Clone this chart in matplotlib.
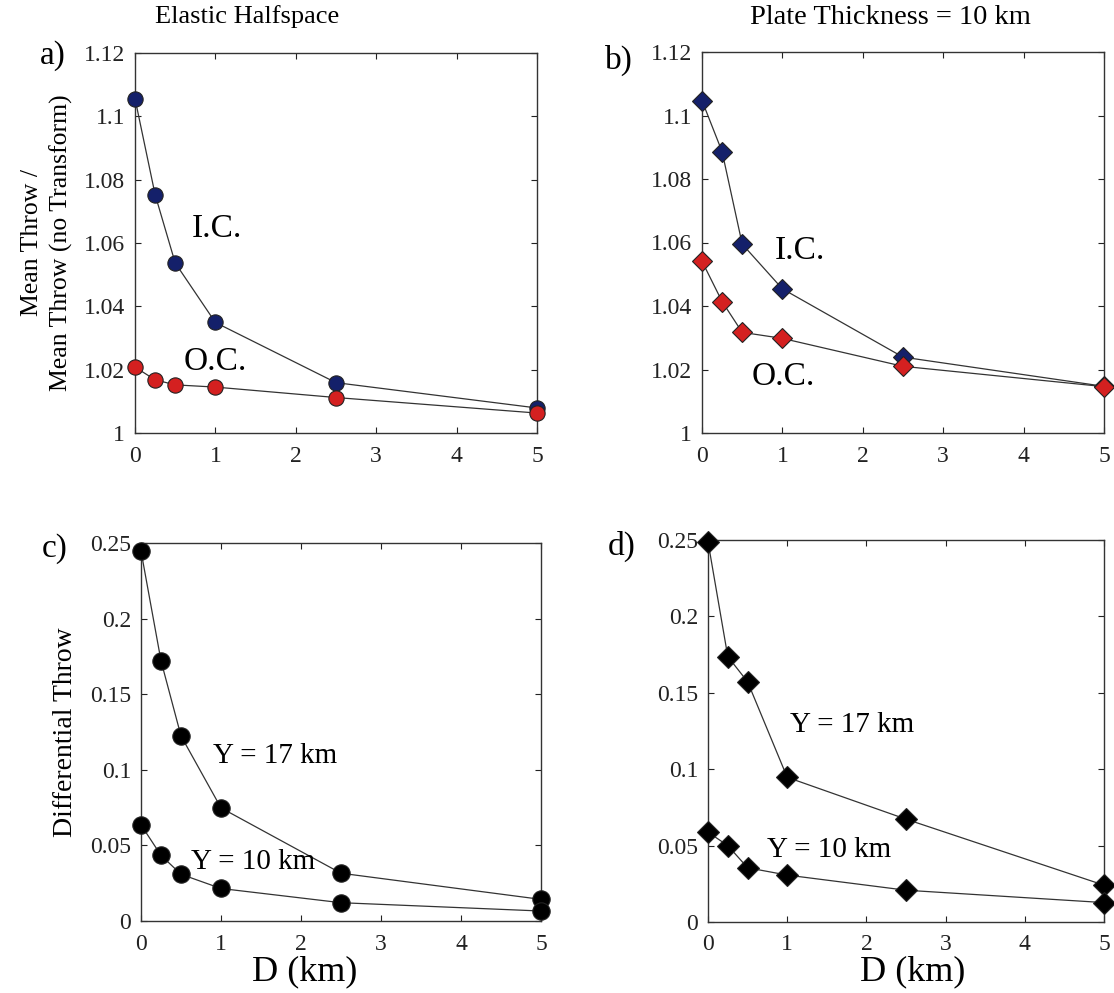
import matplotlib
matplotlib.use("Agg")
import matplotlib.pyplot as plt

plt.rcParams["font.family"] = ["Liberation Serif", "DejaVu Serif"]

# D (km), shared by every panel
depth = [0, 0.25, 0.5, 1, 2.5, 5]

# a) elastic halfspace, mean throw ratio
a_ic = [1.1056, 1.0753, 1.0537, 1.0349, 1.0159, 1.0079]
a_oc = [1.0208, 1.0168, 1.0152, 1.0145, 1.0112, 1.0063]

# b) plate thickness 10 km, mean throw ratio
b_ic = [1.1047, 1.0886, 1.0595, 1.0454, 1.0239, 1.0147]
b_oc = [1.0541, 1.0414, 1.0317, 1.0298, 1.0210, 1.0146]

# c) elastic halfspace, differential throw
c_y17 = [0.2447, 0.1721, 0.1224, 0.0748, 0.0316, 0.0143]
c_y10 = [0.0636, 0.0434, 0.0309, 0.0215, 0.0121, 0.0066]

# d) plate thickness 10 km, differential throw
d_y17 = [0.2489, 0.1737, 0.1572, 0.0947, 0.0673, 0.0241]
d_y10 = [0.0588, 0.0500, 0.0355, 0.0307, 0.0208, 0.0127]

ratio_ticks = [1, 1.02, 1.04, 1.06, 1.08, 1.1, 1.12]
ratio_labels = ["1", "1.02", "1.04", "1.06", "1.08", "1.1", "1.12"]
diff_ticks = [0, 0.05, 0.1, 0.15, 0.2, 0.25]
diff_labels = ["0", "0.05", "0.1", "0.15", "0.2", "0.25"]
x_ticks = [0, 1, 2, 3, 4, 5]

navy = "#14206a"
red = "#d42020"
line_col = "#333333"

W, H = 1114, 993
fig = plt.figure(figsize=(W / 100, H / 100), dpi=100)


def px_axes(left, top, right, bottom):
    return fig.add_axes([left / W, 1 - bottom / H, (right - left) / W, (bottom - top) / H])


ax_a = px_axes(135, 53, 537, 433)
ax_b = px_axes(702, 52, 1104, 433)
ax_c = px_axes(141, 543, 541, 921)
ax_d = px_axes(708, 540, 1104, 922)


def style(ax, yticks, ylabels, ylim):
    ax.set_xlim(0, 5)
    ax.set_ylim(*ylim)
    ax.set_xticks(x_ticks)
    ax.set_xticklabels([str(t) for t in x_ticks])
    ax.set_yticks(yticks)
    ax.set_yticklabels(ylabels)
    ax.tick_params(direction="in", length=4, width=0.8, top=True, right=True,
                   labelsize=17, pad=7, colors="#222222")
    ax.tick_params(axis="x", pad=9)
    for s in ax.spines.values():
        s.set_linewidth(1.0)
        s.set_color("#333333")


def series(ax, y, marker, face, ms):
    ax.plot(depth, y, "-", color=line_col, lw=0.9, marker=marker, ms=ms,
            mfc=face, mec="#222222", mew=0.8, clip_on=False, zorder=3)


series(ax_a, a_ic, "o", navy, 11)
series(ax_a, a_oc, "o", red, 11)
style(ax_a, ratio_ticks, ratio_labels, (1, 1.12))
ax_a.text(0.70, 1.0645, "I.C.", fontsize=24, va="center")
ax_a.text(0.61, 1.0225, "O.C.", fontsize=24, va="center")

series(ax_b, b_ic, "D", navy, 10)
series(ax_b, b_oc, "D", red, 10)
style(ax_b, ratio_ticks, ratio_labels, (1, 1.12))
ax_b.text(0.90, 1.0574, "I.C.", fontsize=24, va="center")
ax_b.text(0.62, 1.0176, "O.C.", fontsize=24, va="center")

series(ax_c, c_y17, "o", "black", 12.5)
series(ax_c, c_y10, "o", "black", 12.5)
style(ax_c, diff_ticks, diff_labels, (0, 0.25))
ax_c.text(0.90, 0.109, "Y = 17 km", fontsize=21, va="center")
ax_c.text(0.62, 0.039, "Y = 10 km", fontsize=21, va="center")

series(ax_d, d_y17, "D", "black", 11)
series(ax_d, d_y10, "D", "black", 11)
style(ax_d, diff_ticks, diff_labels, (0, 0.25))
ax_d.text(1.04, 0.129, "Y = 17 km", fontsize=21, va="center")
ax_d.text(0.75, 0.047, "Y = 10 km", fontsize=21, va="center")

ax_a.set_ylabel("Mean Throw /\nMean Throw (no Transform)", fontsize=18.5, labelpad=8,
                linespacing=1.35)
ax_c.set_ylabel("Differential Throw", fontsize=20, labelpad=9)

# x labels sit a little off the axes centres in the original
fig.text(305 / W, 1 - 972 / H, "D (km)", fontsize=26, ha="center", va="center")
fig.text(913 / W, 1 - 972 / H, "D (km)", fontsize=26, ha="center", va="center")

fig.text(247 / W, 1 - 17 / H, "Elastic Halfspace", fontsize=19, ha="center", va="center")
fig.text(890 / W, 1 - 17 / H, "Plate Thickness = 10 km", fontsize=20.5, ha="center", va="center")

for lab, (x, y) in zip(["a)", "b)", "c)", "d)"],
                       [(53, 56), (619, 60), (55, 549), (622, 546)]):
    fig.text(x / W, 1 - y / H, lab, fontsize=24, ha="center", va="center")

fig.savefig("out.png", dpi=100)
